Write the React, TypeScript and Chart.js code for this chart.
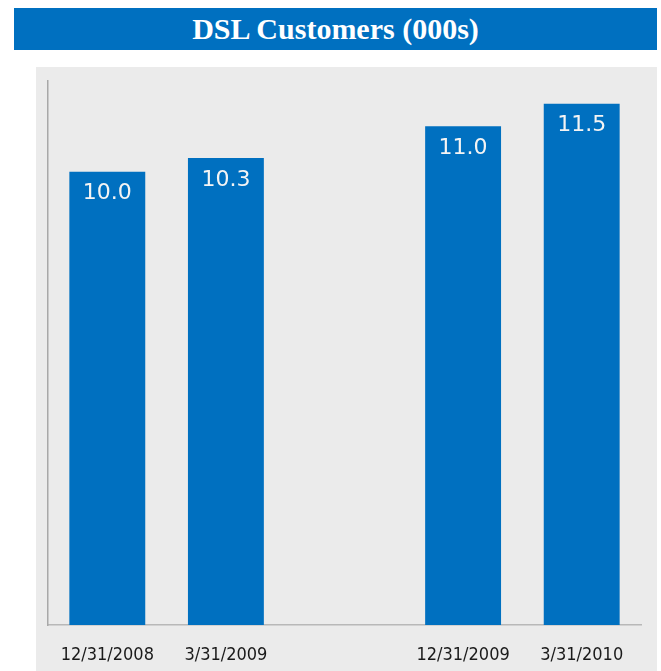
import React, { useEffect, useRef } from "react";
import { Chart, registerables } from "chart.js";

Chart.register(...registerables);

const categories = ["12/31/2008", "3/31/2009", "", "12/31/2009", "3/31/2010"];
const customers = [10.0, 10.3, null, 11.0, 11.5];
const valueLabels = ["10.0", "10.3", "", "11.0", "11.5"];
const titleText = "DSL Customers (000s)";

const BLUE = "#0070C0";

const labelPlugin = {
  id: "barLabels",
  afterDatasetsDraw(chart: any) {
    const ctx = chart.ctx;
    const meta = chart.getDatasetMeta(0);
    ctx.save();
    ctx.fillStyle = "#f4f4f4";
    ctx.font = '22px "DejaVu Sans"';
    ctx.textAlign = "center";
    ctx.textBaseline = "middle";
    meta.data.forEach((bar: any, i: number) => {
      if (customers[i] == null) return;
      ctx.fillText(valueLabels[i], bar.x, bar.y + 22);
    });
    ctx.restore();
  },
};

function DslChart() {
  const ref = useRef<HTMLCanvasElement>(null);
  useEffect(() => {
    if (!ref.current) return;
    const chart = new Chart(ref.current, {
      type: "bar",
      data: {
        labels: categories,
        datasets: [
          {
            data: customers,
            backgroundColor: BLUE,
            barPercentage: 0.8,
            categoryPercentage: 0.8,
          },
        ],
      },
      options: {
        animation: false,
        responsive: false,
        maintainAspectRatio: false,
        layout: { padding: { left: 12, right: 16, top: 14, bottom: 0 } },
        plugins: {
          legend: { display: false },
          tooltip: { enabled: false },
          title: { display: false },
        },
        scales: {
          x: {
            grid: { display: false, drawTicks: false },
            border: { display: true, color: "#b8b8b8", width: 1.5 },
            afterFit: (scale: any) => {
              scale.height = 46;
            },
            ticks: {
              color: "#1a1a1a",
              font: { family: "'DejaVu Sans Condensed', 'DejaVu Sans'", size: 18 },
              padding: 20,
              maxRotation: 0,
              autoSkip: false,
            },
          },
          y: {
            min: 0,
            max: 12,
            grid: { display: false, drawTicks: false },
            border: { display: true, color: "#a8a8a8", width: 1.5 },
            ticks: { display: false },
            afterFit: (scale: any) => {
              scale.width = 0;
            },
          },
        },
      },
      plugins: [labelPlugin],
    });
    return () => chart.destroy();
  }, []);
  return <canvas ref={ref} width={621} height={604} style={{ display: "block" }} />;
}

export default function App() {
  return (
    <div style={{ position: "fixed", left: 0, top: 0, width: 661, height: 671, background: "#ffffff" }}>
      <div
        style={{
          position: "absolute",
          left: 14,
          top: 8,
          width: 643,
          height: 42,
          background: BLUE,
          color: "#ffffff",
          fontFamily: '"Liberation Serif", serif',
          fontWeight: "bold",
          fontSize: 30,
          lineHeight: "42px",
          textAlign: "center",
        }}
      >
        {titleText}
      </div>
      <div
        style={{
          position: "absolute",
          left: 36,
          top: 67,
          width: 621,
          height: 604,
          background: "#ebebeb",
        }}
      >
        <DslChart />
      </div>
    </div>
  );
}
